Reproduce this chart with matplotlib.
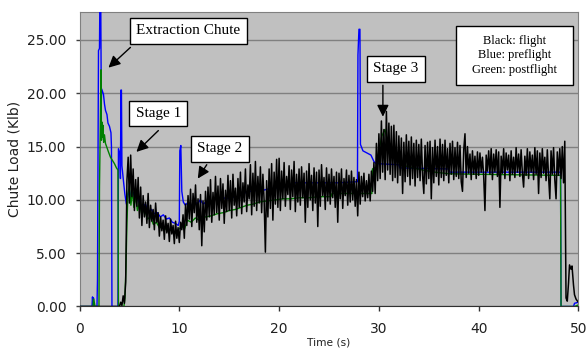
import numpy as np
import matplotlib
matplotlib.use("Agg")
import matplotlib.pyplot as plt
from matplotlib.patches import Rectangle

# Preflight test (blue): time in s, chute load in klb
pre_time = [0.0, 1.25, 1.3, 1.35, 1.4, 1.45, 1.75, 1.8, 1.9, 2.0, 2.05, 2.12, 2.18, 2.22,
            2.4, 2.5, 2.6, 2.75, 2.85, 3.0, 3.15, 3.2, 3.25, 3.85, 3.9, 4.05, 4.1, 4.15,
            4.2, 4.25, 4.4, 4.55, 4.7, 4.85, 5.0, 5.2, 5.4, 5.6, 5.8, 6.0, 6.3, 6.6, 6.9,
            7.2, 7.5, 7.8, 8.1, 8.4, 8.7, 9.0, 9.3, 9.6, 9.9, 10.0, 10.05, 10.15, 10.25,
            10.4, 10.6, 10.9, 11.2, 11.5, 11.8, 12.1, 12.4, 12.8, 13.2, 13.6, 14.0, 14.4,
            14.8, 15.2, 15.7, 16.2, 16.8, 17.4, 18.0, 18.8, 19.6, 20.4, 21.3, 21.4, 24.0,
            26.0, 27.7, 27.85, 27.9, 28.0, 28.1, 28.15, 28.4, 28.8, 29.2, 29.5, 29.7, 32.0,
            32.1, 37.0, 37.1, 48.2, 48.25, 49.5, 49.6, 50.0]
pre_load = [0.0, 0.0, 0.9, 0.2, 0.8, 0.0, 0.0, 2.5, 24.0, 24.2, 30.0, 30.0, 19.2, 20.4,
            19.9, 19.0, 18.4, 18.0, 17.2, 16.9, 16.3, 15.0, 0.0, 0.0, 14.8, 14.3, 12.0, 20.3,
            20.3, 13.2, 11.8, 10.5, 9.6, 10.4, 10.9, 10.1, 10.7, 10.0, 10.6, 9.6, 9.3, 9.6, 8.9,
            9.1, 8.7, 8.8, 8.4, 8.6, 8.2, 8.3, 7.9, 7.8, 7.6, 8.0, 14.6, 15.1, 10.8,
            9.8, 9.5, 9.8, 9.4, 9.9, 9.6, 10.0, 9.6, 9.9, 9.7, 10.1, 9.9, 10.2,
            10.1, 10.3, 10.2, 10.6, 10.7, 10.9, 10.8, 11.0, 11.1, 11.2, 11.3, 11.6, 11.6,
            11.6, 11.7, 11.7, 23.6, 26.0, 26.0, 15.2, 14.6, 14.4, 14.2, 13.6, 13.4, 13.3,
            13.0, 12.9, 12.6, 12.6, 0.0, 0.0, 0.3, 0.4]

# Postflight test (green)
post_time = [0.0, 1.35, 1.4, 1.5, 1.55, 1.95, 2.0, 2.08, 2.15, 2.2, 2.25, 2.3, 2.35, 2.42,
             2.5, 2.6, 2.75, 2.9, 3.1, 3.3, 3.5, 3.7, 3.85, 3.9, 4.45, 4.55, 4.65, 4.75,
             4.85, 5.0, 5.15, 5.3, 5.45, 5.6, 5.8, 6.0, 6.25, 6.5, 6.8, 7.1, 7.4, 7.7, 8.0,
             8.4, 8.8, 9.2, 9.6, 10.0, 10.3, 10.5, 10.8, 11.2, 11.6, 12.0, 12.6, 13.2, 13.8,
             14.4, 15.0, 15.6, 16.2, 16.8, 17.4, 18.0, 18.8, 19.6, 20.4, 21.2, 22.0, 23.0,
             24.0, 25.2, 25.3, 29.3, 29.35, 29.8, 30.0, 30.3, 30.6, 30.9, 31.2, 31.6, 32.0,
             32.6, 33.4, 34.4, 35.6, 37.0, 40.0, 44.0, 48.2, 48.25, 49.6, 50.0]
post_load = [0.0, 0.0, 0.7, 0.3, 0.0, 0.0, 11.2, 16.8, 22.2, 15.6, 17.3, 15.9, 17.0, 15.4,
             16.1, 15.3, 14.9, 14.5, 14.0, 13.7, 13.4, 13.0, 12.8, 0.0, 0.0, 0.8, 3.5, 7.8,
             10.6, 11.3, 9.5, 10.9, 9.3, 10.4, 9.0, 9.8, 8.6, 9.2, 8.2, 8.4, 7.7, 7.9, 7.4,
             7.5, 7.1, 7.2, 6.9, 7.3, 7.5, 7.2, 8.1, 7.9, 8.3, 8.1, 8.4, 8.5, 8.7,
             8.8, 9.0, 9.1, 9.3, 9.5, 9.6, 9.8, 9.9, 10.0, 10.1, 10.1, 10.2, 10.2,
             10.3, 10.3, 10.6, 10.6, 12.9, 13.1, 14.6, 16.0, 16.6, 15.3, 14.4, 13.9, 13.6,
             13.2, 13.0, 12.8, 12.6, 12.45, 12.4, 12.35, 12.3, 0.0, 0.0, 0.15]

# Flight (black): quiet lead-in, 8 samples/s record from 4 s, then touchdown tail
flight_lead_time = [0.0, 3.9]
flight_lead_load = [0.0, 0.0]
flight_start = 4.0
flight_rate = 8
flight_rows = [
    [0.0, 0.4, 0.1, 1.0, 0.3, 2.3, 11.8, 14.0],       # 4 s
    [9.7, 14.2, 10.3, 12.9, 9.0, 11.9, 9.4, 12.1],    # 5 s
    [8.3, 11.2, 7.6, 10.4, 8.4, 9.8, 7.8, 10.6],
    [7.4, 9.5, 8.0, 9.1, 7.2, 9.7, 7.9, 8.8],
    [6.6, 8.4, 7.1, 8.1, 6.3, 8.5, 6.9, 7.8],
    [6.1, 8.2, 6.8, 7.6, 5.9, 8.0, 6.4, 7.4],
    [6.0, 7.9, 7.2, 8.6, 6.4, 9.6, 7.6, 10.4],        # 10 s
    [8.2, 11.0, 7.5, 10.6, 8.8, 11.4, 7.9, 10.1],
    [7.2, 10.5, 5.7, 9.9, 7.0, 10.8, 8.1, 11.2],
    [8.4, 11.9, 7.9, 10.7, 8.6, 12.2, 8.8, 11.3],
    [8.1, 12.0, 9.2, 11.5, 7.8, 10.9, 8.9, 12.3],
    [9.0, 11.8, 8.3, 12.4, 9.5, 11.1, 8.5, 12.0],     # 15 s
    [9.3, 12.6, 8.7, 11.6, 9.8, 12.9, 8.9, 11.4],
    [10.1, 13.3, 8.6, 12.5, 9.4, 13.6, 9.0, 12.2],
    [9.7, 13.1, 8.8, 12.4, 9.9, 5.1, 11.8, 8.4],
    [12.9, 9.2, 13.4, 8.1, 12.6, 9.6, 13.8, 9.3],
    [13.9, 9.0, 12.7, 10.1, 13.5, 9.4, 12.2, 10.5],   # 20 s
    [13.2, 9.1, 12.8, 10.3, 13.6, 8.9, 12.4, 9.8],
    [12.9, 9.5, 13.1, 10.2, 12.5, 7.9, 12.7, 9.3],
    [13.4, 10.0, 12.3, 9.0, 13.0, 9.7, 12.6, 7.5],
    [12.8, 9.4, 13.3, 10.4, 12.1, 9.1, 13.0, 9.9],
    [12.4, 9.6, 12.9, 10.2, 12.2, 9.3, 12.6, 7.9],    # 25 s
    [12.5, 10.1, 12.9, 9.2, 12.0, 10.4, 12.8, 9.5],
    [12.3, 9.8, 12.7, 10.0, 12.1, 9.4, 11.9, 8.5],
    [12.6, 9.6, 12.2, 10.3, 12.5, 9.9, 11.8, 10.2],
    [12.4, 9.9, 12.7, 10.8, 13.5, 10.6, 15.3, 11.8],
    [16.2, 12.0, 17.4, 12.6, 16.6, 11.9, 18.3, 12.8], # 30 s
    [17.2, 12.4, 16.9, 11.8, 17.0, 12.1, 16.4, 11.6],
    [16.0, 12.3, 15.8, 10.6, 15.4, 11.7, 16.1, 12.2],
    [15.5, 11.4, 15.9, 12.0, 15.3, 11.3, 15.6, 12.1],
    [15.2, 11.8, 15.7, 12.3, 10.6, 15.1, 11.5, 15.4],
    [12.0, 15.5, 10.1, 14.9, 11.6, 15.6, 12.2, 15.0], # 35 s
    [11.4, 15.7, 12.1, 15.2, 11.8, 15.6, 12.3, 14.8],
    [11.6, 15.3, 12.4, 15.5, 11.9, 14.9, 12.2, 15.4],
    [12.0, 15.1, 11.7, 10.8, 14.7, 16.2, 12.1, 15.0],
    [12.5, 14.3, 11.9, 14.6, 12.4, 14.1, 12.0, 14.5],
    [12.3, 14.4, 12.6, 14.0, 12.2, 9.0, 14.2, 12.7],  # 40 s
    [14.6, 12.4, 14.8, 11.9, 14.3, 12.6, 14.7, 12.2],
    [14.5, 9.3, 14.1, 12.5, 14.8, 12.0, 14.4, 12.8],
    [14.2, 11.8, 14.6, 12.4, 14.0, 12.1, 14.9, 12.6],
    [14.3, 12.2, 14.7, 12.5, 11.2, 14.1, 12.3, 14.8],
    [12.0, 14.5, 12.6, 14.2, 11.9, 14.9, 12.4, 14.6], # 45 s
    [10.6, 14.4, 12.1, 14.8, 12.5, 14.0, 11.8, 14.7],
    [12.2, 10.1, 14.6, 12.4, 14.9, 11.9, 10.1, 14.5],
    [12.3, 14.8, 12.0, 15.0, 11.6, 15.5, 0.8, 0.5],   # 48 s
]
flight_tail_time = [49.0, 49.1, 49.25, 49.35, 49.5, 49.6, 49.75, 49.9, 50.0]
flight_tail_load = [2.2, 3.9, 3.5, 3.8, 2.0, 1.1, 0.7, 0.5, 0.4]

y_ticks = [0, 5, 10, 15, 20, 25]
x_ticks = [0, 10, 20, 30, 40, 50]

flight_main = np.concatenate([np.asarray(r, dtype=float) for r in flight_rows])
flight_main_time = flight_start + np.arange(flight_main.size) / flight_rate
flight_time = np.concatenate([flight_lead_time, flight_main_time, flight_tail_time])
flight_load = np.concatenate([flight_lead_load, flight_main, flight_tail_load])

fig = plt.figure(figsize=(5.86, 3.5), dpi=100)
fig.patch.set_facecolor("white")
ax = fig.add_axes([0.1357, 0.1243, 0.8515, 0.8423])
ax.set_facecolor("#c0c0c0")

ax.plot(pre_time, pre_load, color="#0000ff", lw=1.0, zorder=3)
ax.plot(post_time, post_load, color="#008000", lw=1.0, zorder=4)
ax.plot(flight_time, flight_load, color="black", lw=1.1, zorder=5)

ax.set_xlim(0, 50)
ax.set_ylim(0, 27.65)
ax.set_xticks(x_ticks)
ax.set_yticks(y_ticks)
ax.set_yticklabels([f"{v:.2f}" for v in y_ticks])
ax.yaxis.grid(True, color="#808080", lw=1.0, zorder=1)
ax.set_axisbelow(True)

for side in ("left", "top", "right"):
    ax.spines[side].set_color("#808080")
ax.spines["bottom"].set_color("#303030")
ax.tick_params(axis="y", direction="out", length=3, width=1, color="#404040",
               pad=6.5, labelsize=10, labelcolor="#202020")
ax.tick_params(axis="x", direction="out", length=3.5, width=1, color="#303030",
               pad=8, labelsize=10, labelcolor="#202020")

ax.set_ylabel("Chute Load (Klb)", fontsize=10, color="#202020", labelpad=4)
ax.set_xlabel("Time (s)", fontsize=7.7, color="#202020", labelpad=1)

serif = ["Liberation Serif", "DejaVu Serif"]
box = dict(boxstyle="square,pad=0.42", facecolor="white", edgecolor="black", lw=1.0)
arrow = dict(arrowstyle="-|>,head_length=0.7,head_width=0.35", color="black",
             lw=1.0, mutation_scale=10, shrinkA=0, shrinkB=0)

labels = [
    ("Extraction Chute", (10.9, 25.85), (5.1, 24.3), (2.9, 22.4)),
    ("Stage 1", (7.9, 18.1), (7.9, 16.5), (5.7, 14.5)),
    ("Stage 2", (14.05, 14.8), (12.75, 13.3), (11.85, 12.0)),
    ("Stage 3", (31.7, 22.3), (30.4, 20.75), (30.4, 17.8)),
]
for text, center, tail, head in labels:
    ax.text(center[0], center[1], text, family=serif, fontsize=11, ha="center",
            va="center", bbox=box, zorder=7)
    ax.annotate("", xy=head, xytext=tail, arrowprops=arrow, zorder=6)

ax.add_patch(Rectangle((0.7545, 0.7514), 0.2345, 0.2001, transform=ax.transAxes,
                       facecolor="white", edgecolor="black", lw=1.0, zorder=7))
ax.text(0.8718, 0.8515, "Black: flight\nBlue: preflight\nGreen: postflight",
        transform=ax.transAxes, family=serif, fontsize=9, ha="center", va="center",
        linespacing=1.25, zorder=8)

fig.savefig("out.png", dpi=100)
